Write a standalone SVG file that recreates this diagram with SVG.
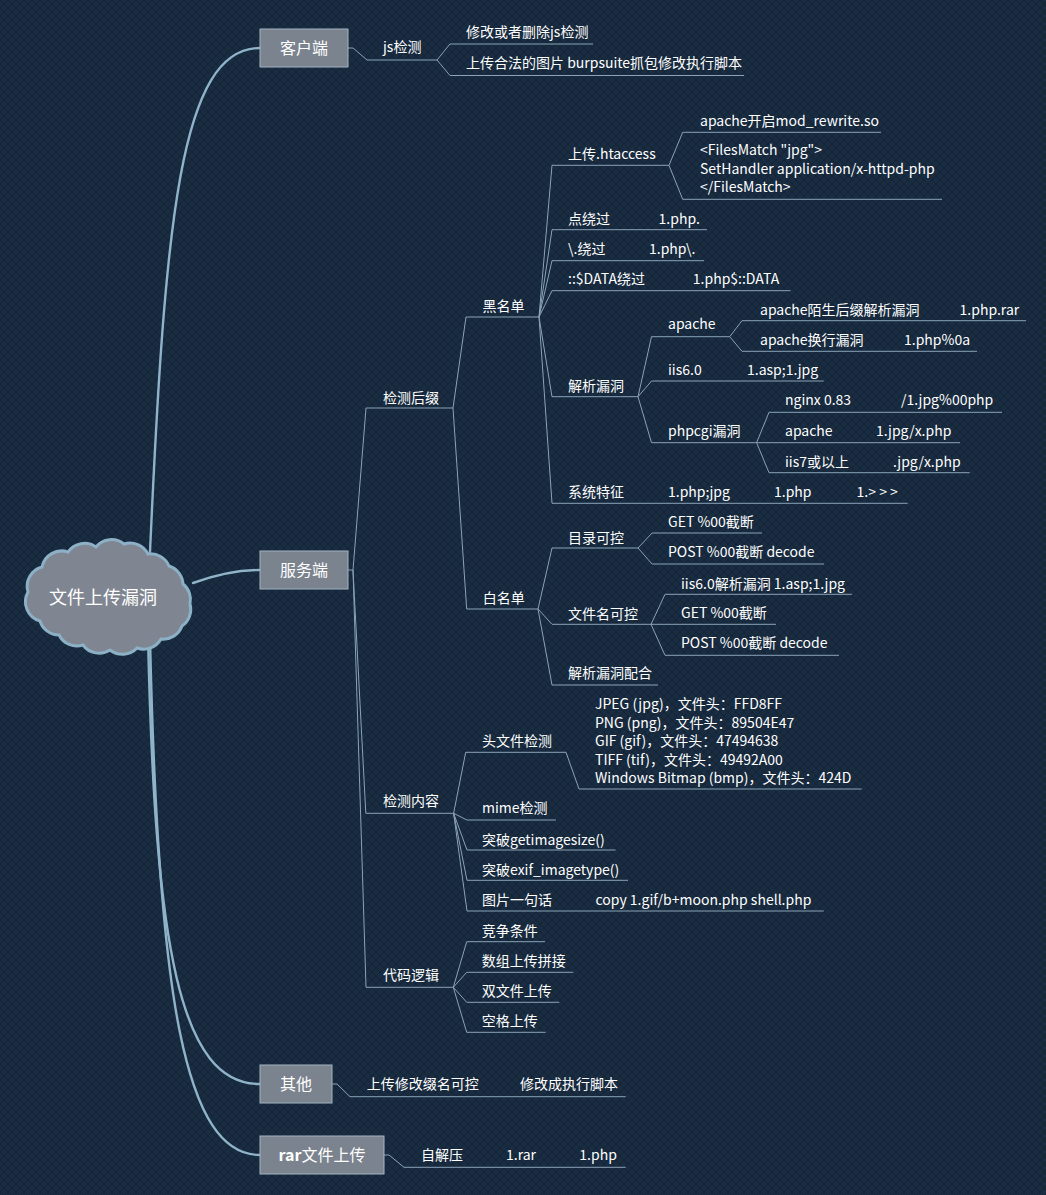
<svg xmlns="http://www.w3.org/2000/svg" width="1046" height="1195" viewBox="0 0 1046 1195">
<defs>
<pattern id="hatch" width="8" height="8" patternUnits="userSpaceOnUse">
<path d="M0,8 L8,0 M-2,2 L2,-2 M6,10 L10,6 M0,0 L8,8 M-2,6 L2,10 M6,-2 L10,2" stroke="#0e1b2a" stroke-width="1" opacity="0.5"/>
</pattern>
<style>
.t{font-family:"Noto Sans CJK SC","Noto Sans",sans-serif;font-size:14px;fill:#ffffff}
.bt{font-size:16px;text-anchor:middle}
.rt{font-size:18px;text-anchor:middle}
.ul{fill:none;stroke:#8aa3b8;stroke-width:1}
.ln{fill:none;stroke:#8aa3b8;stroke-width:1}
.main{fill:none;stroke:#8fb3c9;stroke-width:2.4;stroke-linecap:round}
.box{fill:#7b838e;stroke:#a3b3c2;stroke-width:1}
.cloud{fill:#7f8691;stroke:#8cb0c6;stroke-width:3}
</style>
</defs>
<rect width="1046" height="1195" fill="#192c41"/>
<rect width="1046" height="1195" fill="url(#hatch)"/>

<g id="connectors">
<path class="main" d="M150,552 C165,220 180,48 260,48"/>
<path class="main" d="M193,583 C215,575 235,570 260,570"/>
<path class="main" d="M148,636 C155,950 180,1084 260,1084"/>
<path class="main" d="M150,638 C158,1000 185,1155 260,1155"/>
<path class="ln" d="M348,48 H353 L367,60 M437,60 L450,44 M437,60 L450,75.5"/>
<path class="ln" d="M348,570 H353 L366,408 M353,570 L365.8,813.3 M353,570 L366,987.3"/>
<path class="ln" d="M453,408 L466,317 M453,408 L466.7,609"/>
<path class="ln" d="M539,317 L552,165.3 M539,317 L552,229.7 M539,317 L552,260.7 M539,317 L552,290.7 M539,317 L552,396.7 M539,317 L552,503.3"/>
<path class="ln" d="M669,165.3 L682.7,132.3 M669,165.3 L682.7,199.3"/>
<path class="ln" d="M638,396.7 L651.5,336.7 M638,396.7 L651.5,381 M638,396.7 L651.5,442.7"/>
<path class="ln" d="M729.7,336.7 L742,320.7 M729.7,336.7 L742,351.3"/>
<path class="ln" d="M756.6,442.7 L769,412.3 M756.6,442.7 L769,442.7 M756.6,442.7 L769,472.7"/>
<path class="ln" d="M538,609 L552,548 M538,609 L552,624.3 M538,609 L552,685"/>
<path class="ln" d="M638,548 L652,533 M638,548 L652,564"/>
<path class="ln" d="M651,624.3 L665,594.3 M651,624.3 L665,624.3 M651,624.3 L665,655.3"/>
<path class="ln" d="M453.6,813.3 L465.7,752.3 M453.6,813.3 L467,820 M453.6,813.3 L467,850 M453.6,813.3 L467,880.3 M453.6,813.3 L467,911"/>
<path class="ln" d="M566,752.3 L579,789"/>
<path class="ln" d="M453.3,987.3 L466.7,941.7 M453.3,987.3 L466.7,972.3 M453.3,987.3 L466.7,1002.3 M453.3,987.3 L466.7,1032.3"/>
<path class="ln" d="M332,1084 H337 L350,1096.7"/>
<path class="ln" d="M384,1155 H389 L404,1167.3"/>
</g>

<g id="root">
<path class="cloud" d="M28,592 A20,20 0 0 1 42,567 A20,20 0 0 1 68,552 A20,20 0 0 1 96,547 A20,20 0 0 1 124,544 A20,20 0 0 1 148,554 A20,20 0 0 1 169,566 A20,20 0 0 1 183,584 A20,20 0 0 1 190,604 A20,20 0 0 1 182,626 A20,20 0 0 1 161,639 A20,20 0 0 1 137,648 A20,20 0 0 1 110,650 A20,20 0 0 1 83,645 A20,20 0 0 1 59,635 A20,20 0 0 1 40,621 A20,20 0 0 1 28,592 Z"/>
<text class="t rt" x="103" y="604">文件上传漏洞</text>
</g>

<g id="n-kehu"><rect class="box" x="260" y="29" width="88" height="38"/><text class="t bt" x="304" y="54">客户端</text></g>
<g id="n-js"><text class="t" x="383" y="52">js检测</text><path class="ul" d="M367,60 H437"/></g>
<g id="n-js1"><text class="t" x="466" y="37">修改或者删除js检测</text><path class="ul" d="M450,44 H593"/></g>
<g id="n-js2"><text class="t" x="466" y="68">上传合法的图片 burpsuite抓包修改执行脚本</text><path class="ul" d="M450,75.5 H744"/></g>

<g id="n-fuwu"><rect class="box" x="260" y="551" width="88" height="38"/><text class="t bt" x="304" y="576">服务端</text></g>
<g id="n-jchz"><text class="t" x="383" y="402.5">检测后缀</text><path class="ul" d="M366,408 H453"/></g>
<g id="n-hmd"><text class="t" x="482.5" y="311">黑名单</text><path class="ul" d="M466,317 H539"/></g>
<g id="n-htaccess"><text class="t" x="568" y="158.5">上传.htaccess</text><path class="ul" d="M552,165.3 H669"/></g>
<g id="n-modrewrite"><text class="t" x="700" y="126">apache开启mod_rewrite.so</text><path class="ul" d="M682.7,132.3 H881"/></g>
<g id="n-filesmatch"><text class="t" x="700" y="155">&lt;FilesMatch "jpg"&gt;</text><text class="t" x="700" y="173.5">SetHandler application/x-httpd-php</text><text class="t" x="700" y="192">&lt;/FilesMatch&gt;</text><path class="ul" d="M682.7,199.3 H942"/></g>
<g id="n-dian"><text class="t" x="568" y="223.5">点绕过</text><text class="t" x="658.6" y="223.5">1.php.</text><path class="ul" d="M552,229.7 H707"/></g>
<g id="n-xie"><text class="t" x="568" y="254">\.绕过</text><text class="t" x="649" y="254">1.php\.</text><path class="ul" d="M552,260.7 H704"/></g>
<g id="n-data"><text class="t" x="568" y="284">::$DATA绕过</text><text class="t" x="692.8" y="284">1.php$::DATA</text><path class="ul" d="M552,290.7 H790.5"/></g>
<g id="n-jxld"><text class="t" x="568" y="391">解析漏洞</text><path class="ul" d="M552,396.7 H638"/></g>
<g id="n-apache"><text class="t" x="668" y="329">apache</text><path class="ul" d="M651.5,336.7 H729.7"/></g>
<g id="n-apache1"><text class="t" x="760" y="315">apache陌生后缀解析漏洞</text><text class="t" x="959.6" y="315">1.php.rar</text><path class="ul" d="M742,320.7 H1026"/></g>
<g id="n-apache2"><text class="t" x="760" y="344.5">apache换行漏洞</text><text class="t" x="904" y="344.5">1.php%0a</text><path class="ul" d="M742,351.3 H977"/></g>
<g id="n-iis6"><text class="t" x="668" y="375">iis6.0</text><text class="t" x="747" y="375">1.asp;1.jpg</text><path class="ul" d="M651.5,381 H823.7"/></g>
<g id="n-phpcgi"><text class="t" x="668" y="436">phpcgi漏洞</text><path class="ul" d="M651.5,442.7 H756.6"/></g>
<g id="n-nginx"><text class="t" x="785" y="405">nginx 0.83</text><text class="t" x="901" y="405">/1.jpg%00php</text><path class="ul" d="M769,412.3 H1002"/></g>
<g id="n-apache3"><text class="t" x="785" y="436">apache</text><text class="t" x="876" y="436">1.jpg/x.php</text><path class="ul" d="M769,442.7 H960"/></g>
<g id="n-iis7"><text class="t" x="785" y="467">iis7或以上</text><text class="t" x="893" y="467">.jpg/x.php</text><path class="ul" d="M769,472.7 H969.7"/></g>
<g id="n-xttz"><text class="t" x="568" y="497">系统特征</text><text class="t" x="668" y="497">1.php;jpg</text><text class="t" x="774" y="497">1.php</text><text class="t" x="856.6" y="497">1.&gt; &gt; &gt;</text><path class="ul" d="M552,503.3 H907.6"/></g>

<g id="n-bmd"><text class="t" x="482.7" y="603">白名单</text><path class="ul" d="M466.7,609 H538"/></g>
<g id="n-mlkk"><text class="t" x="568" y="543">目录可控</text><path class="ul" d="M552,548 H638"/></g>
<g id="n-get1"><text class="t" x="668" y="527">GET %00截断</text><path class="ul" d="M652,533 H762"/></g>
<g id="n-post1"><text class="t" x="668" y="557">POST %00截断 decode</text><path class="ul" d="M652,564 H824"/></g>
<g id="n-wjmkk"><text class="t" x="568" y="619">文件名可控</text><path class="ul" d="M552,624.3 H651"/></g>
<g id="n-iis6b"><text class="t" x="681" y="589">iis6.0解析漏洞 1.asp;1.jpg</text><path class="ul" d="M665,594.3 H852"/></g>
<g id="n-get2"><text class="t" x="681" y="618">GET %00截断</text><path class="ul" d="M665,624.3 H776"/></g>
<g id="n-post2"><text class="t" x="681" y="648">POST %00截断 decode</text><path class="ul" d="M665,655.3 H839"/></g>
<g id="n-jxldph"><text class="t" x="568" y="678">解析漏洞配合</text><path class="ul" d="M552,685 H658"/></g>

<g id="n-jcnr"><text class="t" x="383" y="806">检测内容</text><path class="ul" d="M365.8,813.3 H453.6"/></g>
<g id="n-twj"><text class="t" x="482" y="746">头文件检测</text><path class="ul" d="M465.7,752.3 H566"/></g>
<g id="n-filehead"><text class="t" x="595" y="709">JPEG (jpg)，文件头：FFD8FF</text><text class="t" x="595" y="727.5">PNG (png)，文件头：89504E47</text><text class="t" x="595" y="746">GIF (gif)，文件头：47494638</text><text class="t" x="595" y="764.5">TIFF (tif)，文件头：49492A00</text><text class="t" x="595" y="783">Windows Bitmap (bmp)，文件头：424D</text><path class="ul" d="M579,789 H861.7"/></g>
<g id="n-mime"><text class="t" x="482" y="813">mime检测</text><path class="ul" d="M467,820 H556"/></g>
<g id="n-gis"><text class="t" x="482" y="845">突破getimagesize()</text><path class="ul" d="M467,850 H615.5"/></g>
<g id="n-exif"><text class="t" x="482" y="875">突破exif_imagetype()</text><path class="ul" d="M467,880.3 H628"/></g>
<g id="n-tpyjh"><text class="t" x="482" y="905">图片一句话</text><text class="t" x="595.5" y="905">copy 1.gif/b+moon.php shell.php</text><path class="ul" d="M467,911 H823.8"/></g>

<g id="n-dmlj"><text class="t" x="383" y="980">代码逻辑</text><path class="ul" d="M366,987.3 H453.3"/></g>
<g id="n-jztj"><text class="t" x="481.7" y="936">竞争条件</text><path class="ul" d="M466.7,941.7 H545"/></g>
<g id="n-szsc"><text class="t" x="481.7" y="966">数组上传拼接</text><path class="ul" d="M466.7,972.3 H573.3"/></g>
<g id="n-swjsc"><text class="t" x="481.7" y="996">双文件上传</text><path class="ul" d="M466.7,1002.3 H559.3"/></g>
<g id="n-kgsc"><text class="t" x="481.7" y="1026">空格上传</text><path class="ul" d="M466.7,1032.3 H545.7"/></g>

<g id="n-qita"><rect class="box" x="260" y="1065" width="72" height="38"/><text class="t bt" x="296" y="1090">其他</text></g>
<g id="n-qt1"><text class="t" x="366.7" y="1089">上传修改缀名可控</text><text class="t" x="520" y="1089">修改成执行脚本</text><path class="ul" d="M350,1096.7 H625.7"/></g>

<g id="n-rar"><rect class="box" x="260" y="1136" width="124" height="38"/><text class="t bt" x="322" y="1161"><tspan font-weight="bold">rar</tspan>文件上传</text></g>
<g id="n-rar1"><text class="t" x="421" y="1160">自解压</text><text class="t" x="506" y="1160">1.rar</text><text class="t" x="579.3" y="1160">1.php</text><path class="ul" d="M404,1167.3 H625.7"/></g>
</svg>
